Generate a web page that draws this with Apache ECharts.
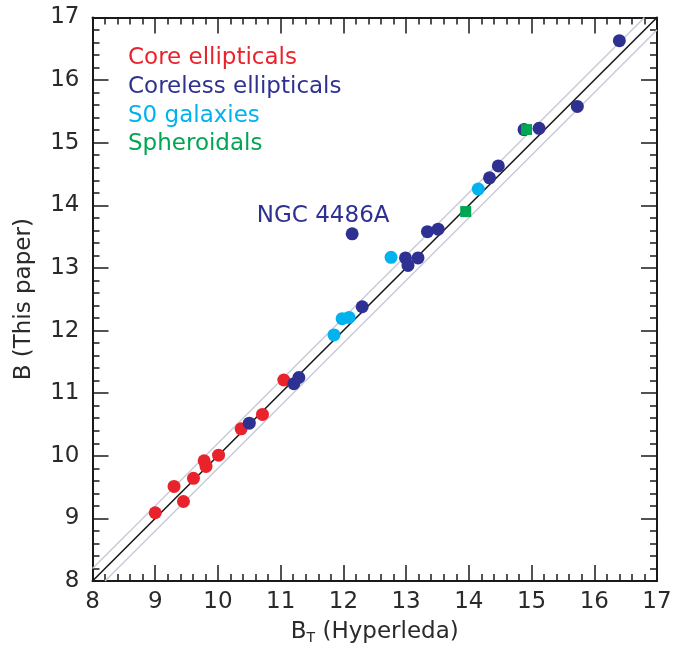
<!DOCTYPE html>
<html>
<head>
<meta charset="utf-8">
<script src="https://cdn.jsdelivr.net/npm/echarts@6/dist/echarts.min.js"></script>
<style>
  html, body { margin: 0; padding: 0; background: #ffffff; }
  #chart { width: 688px; height: 650px; }
</style>
</head>
<body>
<div id="chart"></div>
<script>
// Magnitude ranges and ticks
const axisMin = 8;
const axisMax = 17;
const tickStep = 1;
const band = 0.2; // half-width of the grey band around the one-to-one line

// [B_T (Hyperleda), B (this paper)]
const coreEllipticals = [
  [9.00, 9.09], [9.30, 9.51], [9.45, 9.27], [9.61, 9.64], [9.78, 9.92],
  [9.81, 9.83], [10.01, 10.01], [10.37, 10.43], [10.71, 10.66], [11.05, 11.21]
];
const corelessEllipticals = [
  [10.50, 10.52], [11.21, 11.15], [11.29, 11.25], [12.30, 12.38],
  [12.99, 13.16], [13.03, 13.04], [13.19, 13.16], [13.34, 13.58], [13.51, 13.62],
  [14.33, 14.44], [14.47, 14.63], [14.88, 15.21], [15.12, 15.23], [15.73, 15.58],
  [16.40, 16.63]
];
const outlier = { name: 'NGC 4486A', value: [12.14, 13.545] };
const s0Galaxies = [
  [11.85, 11.93], [11.98, 12.19], [12.09, 12.21], [12.76, 13.17], [14.15, 14.26]
];
const spheroidals = [
  [13.95, 13.90], [14.92, 15.21]
];

const legendItems = [
  { text: 'Core ellipticals', color: '#E8232B' },
  { text: 'Coreless ellipticals', color: '#2E3192' },
  { text: 'S0 galaxies', color: '#00B2EE' },
  { text: 'Spheroidals', color: '#00A651' }
];

const FONT = '"DejaVu Sans", "Liberation Sans", sans-serif';
const FS = 23;
const INK = '#2a2a2a';

const chart = echarts.init(document.getElementById('chart'), null, { renderer: 'canvas' });

function makeX(pos, showLabels) {
  return {
    type: 'value', position: pos, min: axisMin, max: axisMax, interval: tickStep,
    axisLine: { show: true, onZero: false, lineStyle: { color: '#1a1a1a', width: 2 } },
    axisTick: { show: true, inside: true, length: 16, lineStyle: { color: '#1a1a1a', width: 1.5 } },
    minorTick: { show: true, splitNumber: 5, length: 7, lineStyle: { color: '#1a1a1a', width: 1.5 } },
    splitLine: { show: false },
    axisLabel: { show: showLabels, color: INK, fontSize: FS, fontFamily: FONT, margin: 10 },
    name: showLabels ? '{b|B}{s|T}{b| (Hyperleda)}' : '',
    nameLocation: 'middle', nameGap: 38,
    nameTextStyle: {
      color: INK, fontFamily: FONT,
      rich: {
        b: { fontSize: FS, fontFamily: FONT, color: INK },
        s: { fontSize: 14, fontFamily: FONT, color: INK, verticalAlign: 'bottom', padding: [12, 0, 0, 0] }
      }
    }
  };
}
function makeY(pos, showLabels) {
  return {
    type: 'value', position: pos, min: axisMin, max: axisMax, interval: tickStep,
    axisLine: { show: true, onZero: false, lineStyle: { color: '#1a1a1a', width: 2 } },
    axisTick: { show: true, inside: true, length: 16, lineStyle: { color: '#1a1a1a', width: 1.5 } },
    minorTick: { show: true, splitNumber: 5, length: 7, lineStyle: { color: '#1a1a1a', width: 1.5 } },
    splitLine: { show: false },
    axisLabel: { show: showLabels, color: INK, fontSize: FS, fontFamily: FONT, margin: 13 },
    name: showLabels ? 'B (This paper)' : '',
    nameLocation: 'middle', nameGap: 57, nameRotate: 90,
    nameTextStyle: { color: INK, fontSize: FS, fontFamily: FONT }
  };
}

const option = {
  backgroundColor: '#ffffff',
  animation: false,
  grid: { left: 92.5, right: 31, top: 17.5, bottom: 68, containLabel: false },
  xAxis: [makeX('bottom', true), makeX('top', false)],
  yAxis: [makeY('left', true), makeY('right', false)],
  graphic: legendItems.map((it, i) => ({
    type: 'text', left: 128, top: 47 + i * 28.6,
    style: { text: it.text, fill: it.color, fontSize: FS, fontFamily: FONT }
  })),
  series: [
    {
      type: 'line', name: 'upper', data: [[axisMin, axisMin + band], [axisMax - band, axisMax]],
      symbol: 'none', lineStyle: { color: '#C9CBD8', width: 1.5 }, silent: true, z: 1
    },
    {
      type: 'line', name: 'lower', data: [[axisMin + band, axisMin], [axisMax, axisMax - band]],
      symbol: 'none', lineStyle: { color: '#C9CBD8', width: 1.5 }, silent: true, z: 1
    },
    {
      type: 'line', name: 'equal', data: [[axisMin, axisMin], [axisMax, axisMax]],
      symbol: 'none', lineStyle: { color: '#1a1a1a', width: 1.6 }, silent: true, z: 2
    },
    {
      type: 'scatter', name: 'Core ellipticals', data: coreEllipticals,
      symbol: 'circle', symbolSize: 13, itemStyle: { color: '#E8232B', opacity: 1 }, z: 3
    },
    {
      type: 'scatter', name: 'Coreless ellipticals',
      data: corelessEllipticals.concat([{
        name: outlier.name, value: outlier.value,
        label: {
          show: true, formatter: '{b}', position: 'top', offset: [-29, 5],
          color: '#2E3192', fontSize: FS, fontFamily: FONT
        }
      }]),
      symbol: 'circle', symbolSize: 13, itemStyle: { color: '#2E3192', opacity: 1 }, z: 3
    },
    {
      type: 'scatter', name: 'S0 galaxies', data: s0Galaxies,
      symbol: 'circle', symbolSize: 13, itemStyle: { color: '#00B2EE', opacity: 1 }, z: 3
    },
    {
      type: 'scatter', name: 'Spheroidals', data: spheroidals,
      symbol: 'rect', symbolSize: 11, itemStyle: { color: '#00A651', opacity: 1 }, z: 4
    }
  ]
};

chart.setOption(option);
</script>
</body>
</html>
